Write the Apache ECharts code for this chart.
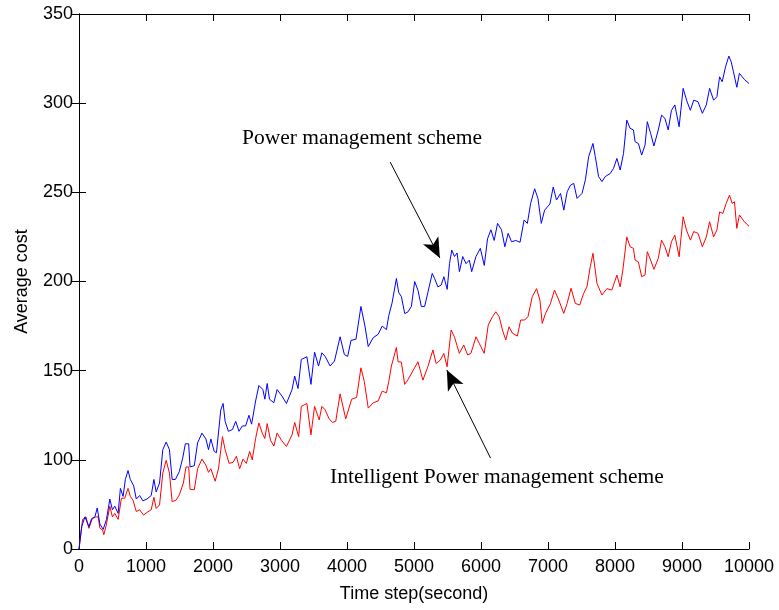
<!DOCTYPE html>
<html>
<head>
<meta charset="utf-8">
<script src="https://cdn.jsdelivr.net/npm/echarts@6/dist/echarts.min.js"></script>
<style>
  html, body { margin: 0; padding: 0; background: #fff; }
  #chart { width: 779px; height: 610px; }
</style>
</head>
<body>
<div id="chart"></div>
<script>
// values
var blueStep = [0, 40, 89, 114, 148, 188, 237, 272, 312, 361, 410, 460, 499, 534, 584, 618, 658, 692, 732, 766,
  816, 855, 905, 954, 1014, 1078, 1118, 1152, 1202, 1251, 1301, 1350, 1390, 1439, 1498, 1548, 1587, 1637, 1657, 1721,
  1770, 1835, 1894, 1933, 1968, 2018, 2052, 2116, 2151, 2181, 2230, 2290, 2339, 2388, 2438, 2487, 2537, 2576, 2636, 2685,
  2744, 2774, 2809, 2843, 2908, 2957, 3031, 3096, 3180, 3219, 3269, 3318, 3402, 3462, 3516, 3575, 3625, 3674, 3748, 3813,
  3897, 3961, 4010, 4060, 4134, 4208, 4268, 4317, 4391, 4465, 4525, 4589, 4624, 4673, 4737, 4772, 4812, 4862, 4911, 4961,
  5010, 5060, 5109, 5159, 5208, 5272, 5307, 5356, 5406, 5446, 5495, 5530, 5564, 5604, 5643, 5678, 5727, 5777, 5826, 5861,
  5925, 5990, 6049, 6098, 6148, 6197, 6247, 6306, 6356, 6405, 6455, 6519, 6583, 6643, 6692, 6741, 6801, 6850, 6900, 6949,
  7028, 7078, 7127, 7187, 7236, 7286, 7335, 7384, 7434, 7508, 7558, 7607, 7671, 7706, 7755, 7805, 7854, 7929, 7978, 8028,
  8077, 8127, 8176, 8225, 8275, 8300, 8349, 8398, 8448, 8482, 8532, 8581, 8646, 8695, 8745, 8794, 8843, 8893, 8957, 9017,
  9076, 9125, 9175, 9239, 9304, 9363, 9412, 9472, 9521, 9561, 9600, 9650, 9699, 9734, 9768, 9818, 9857, 9931, 10000];
var blueCost = [50, 62.5, 68, 69, 62.5, 67, 68, 73, 64, 61, 66.6, 78, 72, 74, 70, 84, 79.5, 89, 94, 89,
  85.4, 78, 80, 77, 78, 80, 89, 82, 87, 105.7, 110, 105.7, 89, 89, 93.5, 101, 109, 109, 96, 96.7,
  109.5, 115, 111.7, 105.7, 111.7, 104.7, 104, 128, 131.6, 121.6, 116, 117, 121.6, 116, 119, 119, 125, 120, 133, 141.7,
  139.4, 134, 142.8, 134, 132, 139.4, 135.7, 131.6, 139.4, 147, 140, 156.3, 157.8, 142.3, 160.4, 152.6, 160, 158, 152.6, 155.4,
  169, 159, 158, 167, 167.6, 186, 175, 163.5, 168.5, 170.4, 175, 173, 181, 188, 201.7, 193.8, 191.5, 182, 183, 186,
  200, 195, 186, 186, 194, 204.5, 201.7, 197, 198, 202.7, 195.6, 210, 217.6, 214, 216, 205.5, 214, 210, 212, 205.5,
  214, 218.6, 209, 224, 229, 223, 232.6, 229, 219.5, 227, 222.3, 223, 222, 234.5, 232.6, 243.8, 252, 246.6, 232.6, 240,
  243.4, 253, 245.7, 249.4, 240, 250.3, 254, 255, 246.6, 249.4, 257, 270, 277.4, 270, 258.8, 256, 258.8, 260.6, 263.4, 269,
  262.5, 271.8, 290.5, 285.9, 285, 278.4, 277.4, 270.9, 276.5, 289.6, 283, 276, 285, 293.3, 291.5, 285, 296, 299, 286.8, 308.3,
  300.8, 296, 301.7, 300.8, 294.3, 299, 308.3, 301.7, 303.6, 314.8, 312, 320.4, 326.4, 323.2, 317.6, 308.9, 316.7, 313.3, 311];

var redStep = [0, 54, 104, 148, 198, 252, 287, 312, 351, 371, 410, 460, 499, 534, 584, 633, 682, 732, 766, 806,
  855, 905, 964, 1014, 1078, 1118, 1152, 1202, 1251, 1301, 1350, 1390, 1449, 1498, 1558, 1597, 1637, 1657, 1721, 1770,
  1835, 1894, 1933, 1968, 2032, 2082, 2141, 2181, 2240, 2300, 2349, 2398, 2448, 2497, 2547, 2586, 2636, 2685, 2734, 2774,
  2809, 2858, 2908, 2957, 3021, 3096, 3180, 3219, 3278, 3318, 3402, 3462, 3516, 3585, 3625, 3674, 3733, 3783, 3832, 3897,
  3981, 4070, 4144, 4208, 4258, 4317, 4391, 4465, 4525, 4589, 4624, 4663, 4737, 4762, 4811, 4861, 4911, 5059, 5133, 5207,
  5282, 5331, 5395, 5445, 5494, 5554, 5603, 5677, 5742, 5801, 5850, 5925, 5974, 6048, 6108, 6172, 6221, 6271, 6320, 6370,
  6419, 6469, 6543, 6592, 6652, 6701, 6765, 6830, 6879, 6914, 6963, 7037, 7097, 7161, 7235, 7285, 7344, 7408, 7473, 7532,
  7581, 7631, 7671, 7705, 7730, 7805, 7879, 7953, 8028, 8077, 8117, 8176, 8225, 8275, 8300, 8349, 8398, 8448, 8482, 8532,
  8581, 8646, 8695, 8745, 8794, 8843, 8893, 8957, 9017, 9066, 9125, 9175, 9239, 9304, 9363, 9412, 9472, 9521, 9561, 9610,
  9660, 9709, 9749, 9783, 9818, 9857, 9931, 10000];
var redCost = [50, 66.6, 68, 61.6, 67, 68, 68, 61.6, 60.7, 58, 64, 74, 68, 70, 66.6, 78.5, 78.5, 84, 79.5, 77.4,
  71, 72, 69, 70.5, 72, 79, 72.7, 74.7, 92.6, 99.7, 92.6, 76.6, 77.4, 80.4, 87, 96, 96, 83.5, 83.2, 95,
  100.4, 97, 93, 95, 88, 95, 113, 105.7, 98, 98.6, 102, 95, 100.4, 98, 104.7, 100, 112, 120.7, 115, 112,
  120.3, 111, 107.7, 115, 111, 107.5, 114, 121, 113, 130, 131.6, 114, 130, 122.4, 130, 128, 123, 121, 121.6, 137,
  123, 134, 135, 151.6, 144, 129, 132, 133, 138.5, 137.6, 144, 152.6, 163, 155, 154.8, 142.3, 145, 155, 144.7, 152.2,
  161.6, 154, 156, 159.7, 152.2, 172.8, 169, 159.7, 164.4, 158.8, 159.7, 169, 165.3, 159.7, 175.6, 180.3, 183, 180.3, 172.8, 167.2,
  174.6, 171, 169.4, 178.4, 178.4, 180.3, 191.5, 196, 189.6, 176.5, 182.1, 187.7, 195.2, 189.6, 182.1, 187.7, 196.2, 187.7, 186.8, 193.3,
  197, 208.3, 215.8, 206.4, 199, 192.4, 196, 195.2, 203.6, 197, 206.4, 225, 219.5, 218.6, 212, 211, 202.7, 203.6, 216.7, 212,
  206.8, 213, 223.2, 219.5, 213.9, 222.3, 226, 213.9, 236.3, 228.9, 223.2, 228, 227, 219.5, 225, 233.5, 225, 228.9, 239, 238.2,
  243.8, 248.5, 243.8, 244.7, 229.8, 237.3, 233.5, 231];

// y ticks: the bottom tick of the figure is printed as "0"
var yTickLabels = { 50: '0', 100: '100', 150: '150', 200: '200', 250: '250', 300: '300', 350: '350' };

// annotation arrows, [from, to] in data units
var arrowPower = [[4644, 267], [5386, 213.2]];
var arrowIntelligent = [[6142, 101], [5490, 150.4]];

function pairs(xs, ys) {
  return xs.map(function (x, i) { return [x, ys[i]]; });
}

var chartDom = document.getElementById('chart');
var myChart = echarts.init(chartDom);
var option;

var axisFont = { fontFamily: 'Liberation Sans, Arial, sans-serif', fontSize: 18, color: '#000' };
var lineBlack = { lineStyle: { color: '#000', width: 1 } };

function arrowMark(a) {
  return {
    silent: true,
    symbol: ['none', 'arrow'],
    symbolSize: [13, 20],
    lineStyle: { color: '#000', width: 1, type: 'solid' },
    label: { show: false },
    data: [[{ coord: a[0] }, { coord: a[1] }]]
  };
}

option = {
  animation: false,
  backgroundColor: '#fff',
  grid: { left: 79, right: 30, top: 14, bottom: 61 },
  xAxis: [
    {
      type: 'value',
      min: 0,
      max: 10000,
      interval: 1000,
      axisLine: lineBlack,
      axisTick: { inside: true, length: 7, lineStyle: { color: '#000' } },
      axisLabel: Object.assign({
        margin: 9,
        formatter: function (v) { return String(v); }
      }, axisFont),
      splitLine: { show: false },
      name: 'Time step(second)',
      nameLocation: 'middle',
      nameGap: 36,
      nameTextStyle: axisFont
    },
    {
      type: 'value',
      position: 'top',
      min: 0,
      max: 10000,
      interval: 1000,
      axisLine: lineBlack,
      axisTick: { inside: true, length: 7, lineStyle: { color: '#000' } },
      axisLabel: { show: false },
      splitLine: { show: false }
    }
  ],
  yAxis: [
    {
      type: 'value',
      min: 50,
      max: 350,
      interval: 50,
      axisLine: lineBlack,
      axisTick: { inside: true, length: 7, lineStyle: { color: '#000' } },
      axisLabel: Object.assign({
        margin: 6,
        formatter: function (v) { return yTickLabels[v]; }
      }, axisFont),
      splitLine: { show: false },
      name: 'Average cost',
      nameLocation: 'middle',
      nameGap: 48,
      nameTextStyle: axisFont
    },
    {
      type: 'value',
      position: 'right',
      min: 50,
      max: 350,
      interval: 50,
      axisLine: lineBlack,
      axisTick: { inside: true, length: 7, lineStyle: { color: '#000' } },
      axisLabel: { show: false },
      splitLine: { show: false }
    }
  ],
  graphic: [
    {
      type: 'text',
      left: 242,
      top: 127,
      style: { text: 'Power management scheme', font: '21.5px "Liberation Serif", "Times New Roman", serif', fill: '#000' }
    },
    {
      type: 'text',
      left: 330,
      top: 466,
      style: { text: 'Intelligent Power management scheme', font: '21.5px "Liberation Serif", "Times New Roman", serif', fill: '#000' }
    }
  ],
  series: [
    {
      name: 'Power management scheme',
      type: 'line',
      data: pairs(blueStep, blueCost),
      showSymbol: false,
      lineStyle: { color: '#0000ff', width: 1 },
      itemStyle: { color: '#0000ff' },
      z: 3,
      markLine: arrowMark(arrowPower)
    },
    {
      name: 'Intelligent Power management scheme',
      type: 'line',
      data: pairs(redStep, redCost),
      showSymbol: false,
      lineStyle: { color: '#ff0000', width: 1 },
      itemStyle: { color: '#ff0000' },
      z: 2,
      markLine: arrowMark(arrowIntelligent)
    }
  ]
};

option && myChart.setOption(option);
window.addEventListener('resize', function () { myChart.resize(); });
</script>
</body>
</html>
